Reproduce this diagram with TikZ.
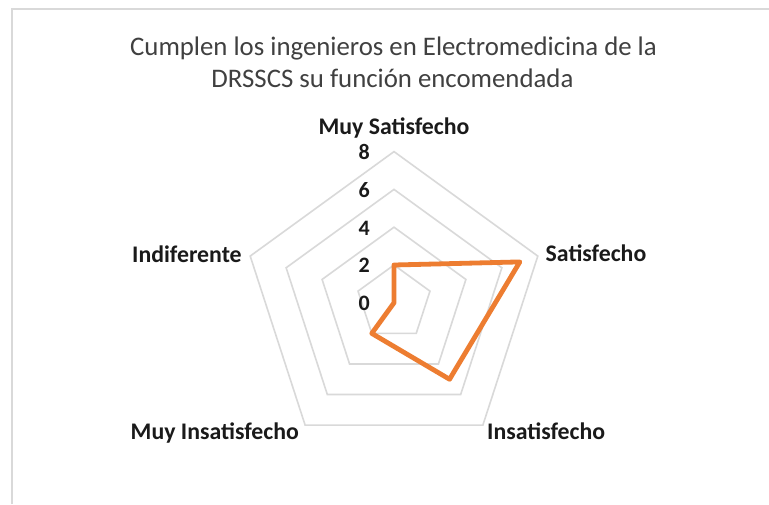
\documentclass[tikz,border=0pt]{standalone}
\usepackage{fontspec}
\setmainfont{Carlito}
\definecolor{ringgray}{HTML}{D9D9D9}
\definecolor{framegray}{HTML}{D9D9D9}
\definecolor{serie}{HTML}{ED7D31}
\definecolor{titlecol}{HTML}{404040}
\definecolor{labcol}{HTML}{1A1A1A}
\begin{document}
\begin{tikzpicture}[x=1pt,y=1pt,
  ring/.style={draw=ringgray,line width=1.6pt,line join=miter},
  serieline/.style={draw=serie,line width=4.8pt,line join=round},
  titletext/.style={inner sep=0pt,text=titlecol,font=\fontsize{26.8}{31.5}\selectfont},
  catlab/.style={inner sep=0pt,text=labcol,font=\fontsize{23.8}{28}\selectfont\bfseries},
  numlab/.style={inner sep=0pt,text=labcol,font=\fontsize{22}{26}\selectfont\bfseries,anchor=base east}]
\useasboundingbox (0,-504) rectangle (769,0);
\fill[white] (0,-504) rectangle (769,0);
% frame
\coordinate (fbl) at (11.5,-504);
\coordinate (ftl) at (11.5,-9);
\coordinate (ftr) at (769,-9);
\draw[framegray,line width=2pt] (fbl) -- (ftl) -- (ftr);
% title
\node[titletext,anchor=base] (title1) at (393.5,-55) {Cumplen los ingenieros en Electromedicina de la};
\node[titletext,anchor=base] (title2) at (392.5,-87) {DRSSCS su función encomendada};
% radar
\begin{scope}[shift={(394,-302.8)}]
  \def\u{18.9}
  \foreach \r in {2,4,6,8}{
    \draw[ring] (90:\r*\u) -- (18:\r*\u) -- (-54:\r*\u) -- (-126:\r*\u) -- (162:\r*\u) -- cycle;
  }
  \coordinate (ms) at (90:2*\u);
  \coordinate (sa) at (18:7*\u);
  \coordinate (in) at (-54:5*\u);
  \coordinate (mi) at (-126:2*\u);
  \coordinate (id) at (162:0);
  \draw[serieline] (ms) -- (sa) -- (in) -- (mi) -- (id) -- cycle;
\end{scope}
% axis numbers
\node[numlab] (n8) at (370,-159.5) {8};
\node[numlab] (n6) at (370,-197.3) {6};
\node[numlab] (n4) at (370,-235.1) {4};
\node[numlab] (n2) at (370,-272.9) {2};
\node[numlab] (n0) at (370,-310.7) {0};
% category labels
\node[catlab,anchor=base] (lms) at (394,-134.5) {Muy Satisfecho};
\node[catlab,anchor=base west] (lsa) at (545.5,-261.5) {Satisfecho};
\node[catlab,anchor=base west] (lin) at (487,-439) {Insatisfecho};
\node[catlab,anchor=base west] (lmi) at (130.5,-439) {Muy Insatisfecho};
\node[catlab,anchor=base west] (lid) at (132,-262) {Indiferente};
\end{tikzpicture}
\end{document}
